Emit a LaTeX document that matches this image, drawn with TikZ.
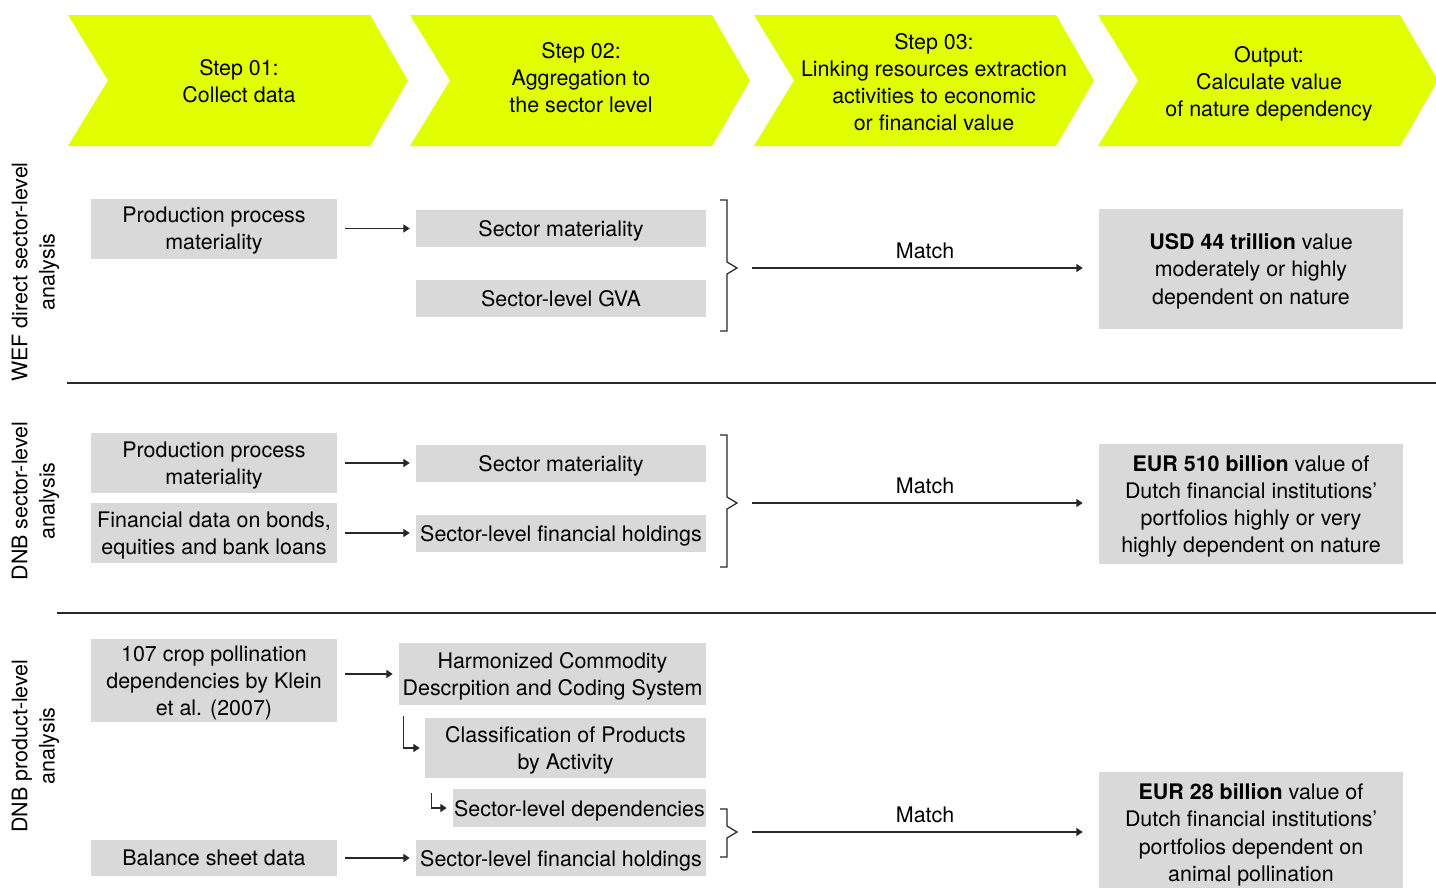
\documentclass[tikz,border=0pt]{standalone}
\usepackage{fontspec}
\setmainfont{TeX Gyre Heros}
\usetikzlibrary{arrows.meta}
\usetikzlibrary{positioning}
\definecolor{stepyellow}{RGB}{226,255,0}
\definecolor{boxgray}{RGB}{217,217,217}
\definecolor{linegray}{RGB}{40,40,40}
\tikzset {
  txt/.style = {
    align = center,
    inner sep = 0,
    font = \fontsize{12.2}{15.4}\selectfont
  },
  % grey text boxes
  box/.style = {
    txt,
    fill = boxgray,
    text depth = 0pt
  },
  leftbox/.style = {
    box,
    minimum width = 4.92cm
  },
  sectorbox/.style = {
    box,
    minimum width = 5.8cm,
    minimum height = 0.74cm
  },
  outbox/.style = {
    box,
    minimum width = 6.08cm,
    minimum height = 2.4cm
  },
  % rotated row titles
  rowtitle/.style = {
    txt,
    rotate = 90
  },
  steptext/.style = {
    txt
  }
}
\tikzset {
  arr/.style = {
    draw = linegray,
    line width = 0.7pt,
    -{Triangle[length=3.6pt,width=4.6pt]},
    shorten <= 0.16cm,
    shorten >= 0.12cm
  },
  % bracket in front of the match arrows
  brk/.style = {
    draw = linegray,
    line width = 0.7pt
  },
  sep/.style = {
    draw = linegray,
    line width = 0.6pt
  }
}

\begin{document}
\begin{tikzpicture}[x=0.02cm, y=-0.02cm]
    \useasboundingbox (0,0) rectangle (1436,887);

    % step chevrons
    \foreach \x/\tx/\ty/\txt [count=\i] in {
        68/171/81/{Step 01:\\Collect data},
        410/171/78/{Step 02:\\Aggregation to\\the sector level},
        754/180/82/{Step 03:\\Linking resources extraction\\activities to economic\\or financial value},
        1098/171/84/{Output:\\Calculate value\\of nature dependency}} {
      \fill[stepyellow] (\x,15) -- ++(302,0) -- ++(38,65.5) -- ++(-38,65.5)
        -- ++(-302,0) -- ++(40,-65.5) -- cycle;
      \node[steptext] (step\i) at (\x+\tx,\ty) {\txt};
    }

    % row titles
    \node[rowtitle] (wef) at (35.5,272) {WEF direct sector-level\\analysis};
    \node[rowtitle] (dnbsec) at (35.5,501) {DNB sector-level\\analysis};
    \node[rowtitle] (dnbprod) at (35.5,746) {DNB product-level\\analysis};

    \draw[sep] (67,383) -- (1436,383);
    \draw[sep] (57,613) -- (1436,613);

    % WEF row
    \node[leftbox, minimum height=1.2cm] (ppm1) at (214,228.5) {Production process\\materiality};
    \node[sectorbox] (sm1) at (561,228.5) {Sector materiality};
    \node[sectorbox] (gva) at (561,298.5) {Sector-level GVA};
    \node[outbox] (out1) at (1251,269) {\textbf{USD 44 trillion} value\\moderately or highly\\dependent on nature};
    \draw[brk] (720,200) -- (727,200) -- (727,262) -- (737,268) -- (727,274) -- (727,331) -- (720,331);
    \coordinate (m1) at (737,268);

    \draw[arr] (ppm1) -- (sm1);
    \draw[arr, shorten <=0.3cm, shorten >=0.32cm] (m1) -- (m1 -| out1.west)
      node[txt, pos=0.52, above=0.18cm] {Match};

    % DNB sector row
    \node[leftbox, minimum height=1.2cm] (ppm2) at (214,463) {Production process\\materiality};
    \node[sectorbox] (sm2) at (561,463) {Sector materiality};
    \node[leftbox, minimum height=1.2cm] (fin) at (214,533) {Financial data on bonds,\\equities and bank loans};
    \node[sectorbox] (sfh2) at (561,533) {Sector-level financial holdings};
    \node[outbox] (out2) at (1251,504) {\textbf{EUR 510 billion} value of\\Dutch financial institutions’\\portfolios highly or very\\highly dependent on nature};
    \draw[brk] (720,435) -- (727,435) -- (727,497) -- (737,503) -- (727,509) -- (727,567) -- (720,567);
    \coordinate (m2) at (737,503);

    \draw[arr] (ppm2) -- (sm2);
    \draw[arr] (fin) -- (sfh2);
    \draw[arr, shorten <=0.3cm, shorten >=0.32cm] (m2) -- (m2 -| out2.west)
      node[txt, pos=0.52, above=0.18cm] {Match};

    % DNB product row
    \node[leftbox, minimum height=1.66cm] (klein) at (214,680.5) {107 crop pollination\\dependencies by Klein\\et al. (2007)};
    \node[box, minimum width=6.14cm, minimum height=1.24cm] (hcdcs) at (552.5,674) {Harmonized Commodity\\Descrpition and Coding System};
    \node[box, minimum width=5.62cm, minimum height=1.2cm] (cpa) at (565.5,748) {Classification of Products\\by Activity};
    \node[box, minimum width=5.06cm, minimum height=0.76cm] (sld) at (579.5,808) {Sector-level dependencies};
    \node[leftbox, minimum height=0.72cm] (bal) at (214,858) {Balance sheet data};
    \node[sectorbox, minimum height=0.72cm] (sfh3) at (561,858) {Sector-level financial holdings};
    \node[outbox, minimum height=2.42cm] (out3) at (1251,832.5) {\textbf{EUR 28 billion} value of\\Dutch financial institutions’\\portfolios dependent on\\animal pollination};
    \draw[brk] (720,809) -- (727,809) -- (727,826) -- (737,832) -- (727,838) -- (727,857) -- (720,857);
    \coordinate (m3) at (737,832);

    \draw[arr] (klein.east |- hcdcs.west) -- (hcdcs);
    \draw[arr, shorten <=0pt, shorten >=0.1cm] ([xshift=0.1cm, yshift=-0.22cm]hcdcs.south west) |- (cpa.west);
    \draw[arr, shorten <=0pt, shorten >=0.12cm] ([xshift=0.14cm, yshift=-0.3cm]cpa.south west) |- (sld.west);
    \draw[arr] (bal) -- (sfh3);
    \draw[arr, shorten <=0.3cm, shorten >=0.32cm] (m3) -- (m3 -| out3.west)
      node[txt, pos=0.52, above=0.18cm] {Match};
\end{tikzpicture}
\end{document}
